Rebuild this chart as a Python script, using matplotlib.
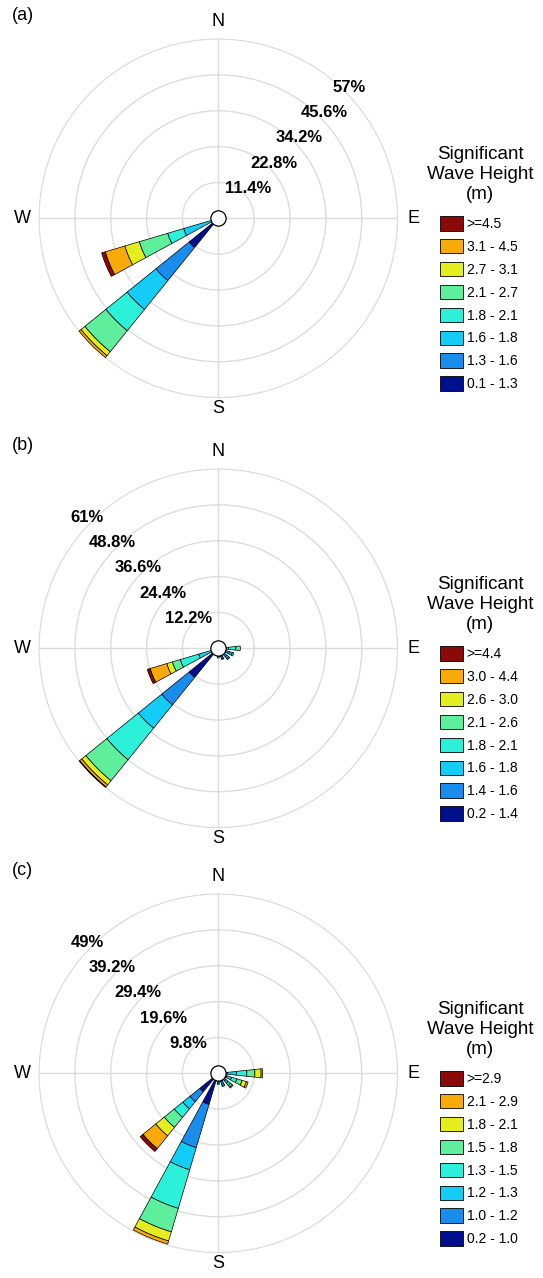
import numpy as np
import matplotlib
matplotlib.use('Agg')
import matplotlib.pyplot as plt
from matplotlib.patches import Patch

plt.rcParams['font.family'] = ['Liberation Sans', 'DejaVu Sans']

# ---------------- data ----------------
class_colors = ['#00108C', '#1A8CEB', '#14CDF6', '#2CF0DA',
                '#5EEE9C', '#E4EE1E', '#F8AA0A', '#8A0A0A']

# panel (a)
dirs_a = [112.5, 135, 157.5, 180, 225, 247.5]
freq_a = [
    [0.8, 0.6, 0.3, 0.2, 0, 0, 0, 0],
    [1.2, 0.8, 0.4, 0, 0, 0, 0, 0],
    [1.0, 0.5, 0, 0, 0, 0, 0, 0],
    [0.8, 0.3, 0, 0, 0, 0, 0, 0],
    [12.0, 13.5, 11.8, 8.7, 8.6, 1.6, 0.8, 0],
    [0.8, 1.4, 9.3, 5.3, 9.4, 4.8, 6.5, 1.2],
]
rings_a = [11.4, 22.8, 34.2, 45.6, 57]
labels_a = ['0.1 - 1.3', '1.3 - 1.6', '1.6 - 1.8', '1.8 - 2.1',
            '2.1 - 2.7', '2.7 - 3.1', '3.1 - 4.5', '>=4.5']

# panel (b)
dirs_b = [90, 112.5, 135, 157.5, 180, 225, 247.5]
freq_b = [
    [0.8, 1.2, 1.5, 2.5, 1.5, 0, 0, 0],
    [2.5, 1.5, 1.0, 0.5, 0, 0, 0, 0],
    [2.5, 1.3, 0.8, 0.4, 0, 0, 0, 0],
    [2.2, 1.0, 0.6, 0.2, 0, 0, 0, 0],
    [2.0, 0.8, 0.5, 0, 0, 0, 0, 0],
    [12.8, 12.0, 10.2, 13.8, 9.2, 1.8, 0.9, 0.2],
    [0.5, 1.5, 5.0, 6.5, 2.8, 2.0, 5.9, 1.0],
]
rings_b = [12.2, 24.4, 36.6, 48.8, 61]
labels_b = ['0.2 - 1.4', '1.4 - 1.6', '1.6 - 1.8', '1.8 - 2.1',
            '2.1 - 2.6', '2.6 - 3.0', '3.0 - 4.4', '>=4.4']

# panel (c)
dirs_c = [90, 112.5, 135, 157.5, 180, 202.5, 225]
freq_c = [
    [1.0, 1.5, 2.5, 2.8, 2.2, 1.7, 0.4, 0],
    [1.2, 1.3, 1.3, 1.5, 1.5, 1.2, 0.5, 0],
    [1.5, 1.2, 0.8, 0.8, 0.6, 0.3, 0, 0],
    [1.5, 1.0, 0.6, 0.4, 0.3, 0, 0, 0],
    [1.5, 0.8, 0.4, 0.3, 0, 0, 0, 0],
    [8.9, 12.3, 6.3, 11.0, 6.7, 2.6, 0.9, 0],
    [6.5, 3.5, 2.5, 3.0, 3.5, 3.0, 4.5, 1.0],
]
rings_c = [9.8, 19.6, 29.4, 39.2, 49]
labels_c = ['0.2 - 1.0', '1.0 - 1.2', '1.2 - 1.3', '1.3 - 1.5',
            '1.5 - 1.8', '1.8 - 2.1', '2.1 - 2.9', '>=2.9']

legend_title = 'Significant\nWave Height\n(m)'

# ---------------- figure ----------------
W, H, DPI = 543, 1278, 100
fig = plt.figure(figsize=(W / DPI, H / DPI), dpi=DPI)
fig.patch.set_facecolor('white')

CX = 218.3
RPX = 180
BAR_W = np.deg2rad(12)
GRID_C = '#dcdcdc'


def draw_panel(cy, tag, dirs, freqs, rings, labels, label_angle):
    ax = fig.add_axes([(CX - RPX) / W, 1 - (cy + RPX) / H,
                       2 * RPX / W, 2 * RPX / H], projection='polar')
    ax.set_theta_zero_location('N')
    ax.set_theta_direction(-1)
    rmax = rings[-1]
    ax.set_ylim(0, rmax * 1.004)
    ax.set_rticks(rings)
    ax.set_yticklabels([])
    ax.set_xticks(np.deg2rad([0, 90, 180, 270]))
    ax.set_xticklabels([])
    ax.grid(True, color=GRID_C, lw=1.0)
    ax.spines['polar'].set_visible(False)
    ax.tick_params(length=0)

    arr = np.array(freqs, dtype=float)
    theta = np.deg2rad(dirs)
    bottom = np.zeros(len(dirs))
    for k in range(arr.shape[1]):
        m = arr[:, k] > 0
        if m.any():
            ax.bar(theta[m], arr[m, k], width=BAR_W, bottom=bottom[m],
                   color=class_colors[k], edgecolor='black', linewidth=0.5,
                   zorder=3)
        bottom += arr[:, k]

    ax.plot([0], [0], 'o', ms=11, mfc='white', mec='black', mew=0.9,
            zorder=6, clip_on=False)

    sgn = 1 if label_angle < 180 else -1
    for r in rings:
        ax.annotate(f'{r:g}%', xy=(np.deg2rad(label_angle), r),
                    xytext=(sgn * 4.5, 4.5), textcoords='offset pixels',
                    ha='center', va='center', fontsize=12,
                    fontweight='bold', annotation_clip=False, zorder=7)

    for ang, txt, fac in [(0, 'N', 1.095), (90, 'E', 1.09),
                          (180, 'S', 1.06), (270, 'W', 1.09)]:
        ax.text(np.deg2rad(ang), rmax * fac, txt, ha='center', va='center',
                fontsize=13, clip_on=False)

    fig.text(12 / W, 1 - (cy - 203) / H, tag, ha='left', va='center',
             fontsize=13)

    # legend title as figure text, legend entries below it
    fig.text(480 / W, 1 - (cy - 44) / H, legend_title, ha='center',
             va='center', fontsize=13.5, linespacing=1.23,
             multialignment='center')

    handles = [Patch(facecolor=c, edgecolor='black', linewidth=0.6, label=l)
               for c, l in zip(class_colors[::-1], labels[::-1])]
    ax.legend(handles=handles, loc='upper center',
              bbox_to_anchor=(479 / W, 1 - (cy - 2) / H),
              bbox_transform=fig.transFigure, frameon=False,
              fontsize=10, handlelength=1.6, handleheight=1.2,
              labelspacing=0.58, handletextpad=0.3, borderpad=0,
              borderaxespad=0)
    return ax


draw_panel(218.3, '(a)', dirs_a, freq_a, rings_a, labels_a, 45)
draw_panel(648.3, '(b)', dirs_b, freq_b, rings_b, labels_b, 315)
draw_panel(1073.3, '(c)', dirs_c, freq_c, rings_c, labels_c, 315)

fig.savefig('out.png', dpi=DPI, facecolor='white')
